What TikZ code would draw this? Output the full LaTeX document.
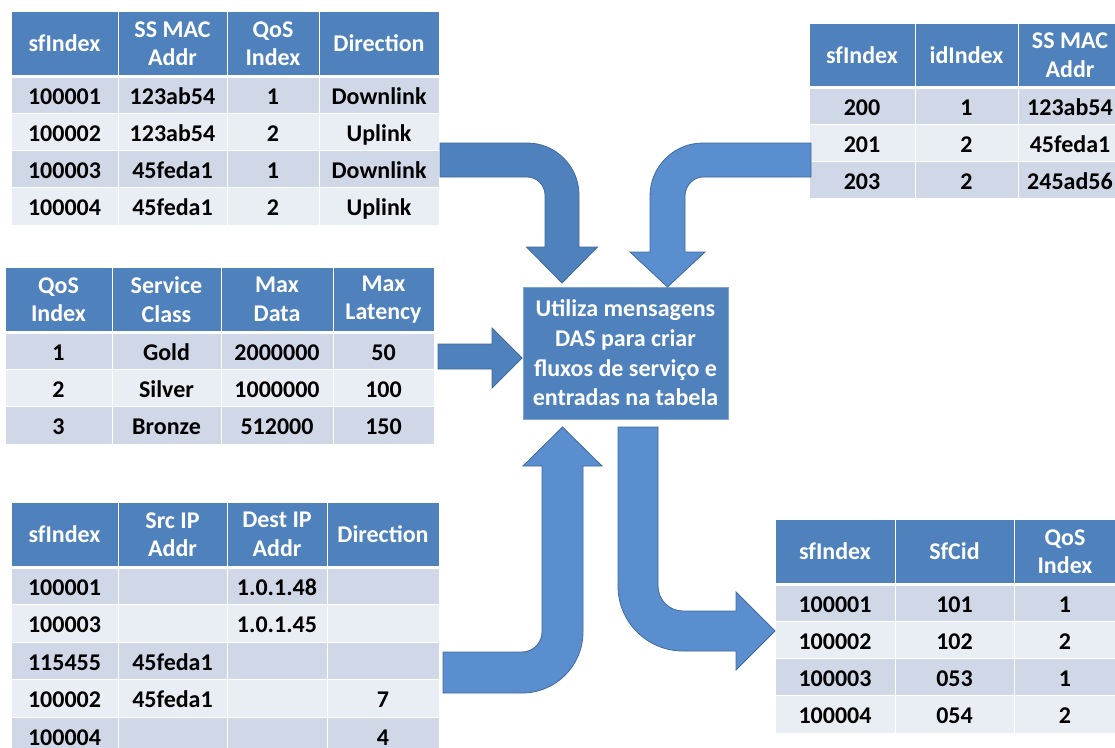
\documentclass[tikz,border=0pt]{standalone}
\usepackage{fontspec}
\setmainfont{Carlito}
\definecolor{hdr}{HTML}{4F81BD}
\definecolor{rowA}{HTML}{D0D8E8}
\definecolor{rowB}{HTML}{E9EDF4}
\definecolor{arrowdark}{HTML}{4F81BD}
\definecolor{arrowlight}{HTML}{5A8ECF}
\definecolor{arrowline}{HTML}{3F6A9E}
\definecolor{boxline}{HTML}{7FA3D3}
\newcommand\tcell[7]{%
  \node[#2, minimum width={(#5-#3)*1pt}, minimum height={(#6-#4)*1pt}] (#1) at ({(#3+#5)/2},{(#4+#6)/2}) {#7};}
\begin{document}
\begin{tikzpicture}[x=1pt,y=-1pt,
  tfont/.style={font=\fontsize{24}{28.5}\selectfont\bfseries},
  hcell/.style={tfont, fill=hdr, draw=white, line width=1pt, text=white, align=center, inner sep=0pt},
  bcell/.style={tfont, draw=white, line width=1pt, text=black, inner sep=0pt, text height=19pt, text depth=0pt},
  hline/.style={white, line width=2.5pt},
  darrow/.style={fill=arrowdark, draw=arrowline, line width=0.8pt, line join=miter},
  larrow/.style={fill=arrowlight, draw=arrowline, line width=0.8pt, line join=miter},
  dasbox/.style={fill=hdr, draw=boxline, line width=0.8pt, text=white, align=center,
    font=\fontsize{24}{29.7}\selectfont\bfseries, minimum width=205pt, minimum height=132pt, inner sep=0pt}]
\useasboundingbox (0,0) rectangle (1115,747);
\clip (0,0) rectangle (1115,747);
\fill[white] (0,0) rectangle (1115,747);

% ---------- Table 1 (top left)
\tcell{ta-h1}{hcell}{11}{11}{118}{76}{sfIndex}
\tcell{ta-h2}{hcell}{118}{11}{227}{76}{SS MAC\\Addr}
\tcell{ta-h3}{hcell}{227}{11}{319}{76}{QoS\\Index}
\tcell{ta-h4}{hcell}{319}{11}{439}{76}{Direction}
\foreach \ca/\va/\vb/\xa/\xb/\xc/\xd [count=\ri] in
  {rowA/76/113.25/100001/123ab54/1/Downlink,
   rowB/113.25/150.5/100002/123ab54/2/Uplink,
   rowA/150.5/187.75/100003/45feda1/1/Downlink,
   rowB/187.75/225/100004/45feda1/2/Uplink}{
  \tcell{ta-\ri-1}{bcell,fill=\ca}{11}{\va}{118}{\vb}{\xa}
  \tcell{ta-\ri-2}{bcell,fill=\ca}{118}{\va}{227}{\vb}{\xb}
  \tcell{ta-\ri-3}{bcell,fill=\ca}{227}{\va}{319}{\vb}{\xc}
  \tcell{ta-\ri-4}{bcell,fill=\ca}{319}{\va}{439}{\vb}{\xd}
}
\draw[hline] (ta-h1.south west) -- (ta-h4.south east);

% ---------- Table 2 (top right)
\tcell{tb-h1}{hcell}{809}{23}{915}{87}{sfIndex}
\tcell{tb-h2}{hcell}{915}{23}{1018}{87}{idIndex}
\tcell{tb-h3}{hcell}{1018}{23}{1122}{87}{SS MAC\\Addr}
\foreach \ca/\va/\vb/\xa/\xb/\xc [count=\ri] in
  {rowA/87/124/200/1/123ab54,
   rowB/124/161/201/2/45feda1,
   rowA/161/198/203/2/245ad56}{
  \tcell{tb-\ri-1}{bcell,fill=\ca}{809}{\va}{915}{\vb}{\xa}
  \tcell{tb-\ri-2}{bcell,fill=\ca}{915}{\va}{1018}{\vb}{\xb}
  \tcell{tb-\ri-3}{bcell,fill=\ca}{1018}{\va}{1122}{\vb}{\xc}
}
\draw[hline] (tb-h1.south west) -- (tb-h3.south east);

% ---------- Table 3 (QoS)
\tcell{tc-h1}{hcell}{5}{267}{112}{332}{QoS\\Index}
\tcell{tc-h2}{hcell}{112}{267}{221}{332}{Service\\Class}
\tcell{tc-h3}{hcell}{221}{267}{333}{332}{Max\\Data}
\tcell{tc-h4}{hcell}{333}{267}{434}{332}{Max\\Latency}
\foreach \ca/\va/\vb/\xa/\xb/\xc/\xd [count=\ri] in
  {rowA/332/369.3/1/Gold/2000000/50,
   rowB/369.3/406.6/2/Silver/1000000/100,
   rowA/406.6/444/3/Bronze/512000/150}{
  \tcell{tc-\ri-1}{bcell,fill=\ca}{5}{\va}{112}{\vb}{\xa}
  \tcell{tc-\ri-2}{bcell,fill=\ca}{112}{\va}{221}{\vb}{\xb}
  \tcell{tc-\ri-3}{bcell,fill=\ca}{221}{\va}{333}{\vb}{\xc}
  \tcell{tc-\ri-4}{bcell,fill=\ca}{333}{\va}{434}{\vb}{\xd}
}
\draw[hline] (tc-h1.south west) -- (tc-h4.south east);

% ---------- Table 4 (bottom left)
\tcell{td-h1}{hcell}{11}{502}{118}{567}{sfIndex}
\tcell{td-h2}{hcell}{118}{502}{227}{567}{Src IP\\Addr}
\tcell{td-h3}{hcell}{227}{502}{327}{567}{Dest IP\\Addr}
\tcell{td-h4}{hcell}{327}{502}{439}{567}{Direction}
\foreach \ca/\va/\vb/\xa/\xb/\xc/\xd [count=\ri] in
  {rowA/567/604.5/100001//1.0.1.48/,
   rowB/604.5/642/100003//1.0.1.45/,
   rowA/642/679.5/115455/45feda1//,
   rowB/679.5/717/100002/45feda1//7,
   rowA/717/754.5/100004///4}{
  \tcell{td-\ri-1}{bcell,fill=\ca}{11}{\va}{118}{\vb}{\xa}
  \tcell{td-\ri-2}{bcell,fill=\ca}{118}{\va}{227}{\vb}{\xb}
  \tcell{td-\ri-3}{bcell,fill=\ca}{227}{\va}{327}{\vb}{\xc}
  \tcell{td-\ri-4}{bcell,fill=\ca}{327}{\va}{439}{\vb}{\xd}
}
\draw[hline] (td-h1.south west) -- (td-h4.south east);

% ---------- Table 5 (bottom right)
\tcell{te-h1}{hcell}{775}{519}{895}{584}{sfIndex}
\tcell{te-h2}{hcell}{895}{519}{1014}{584}{SfCid}
\tcell{te-h3}{hcell}{1014}{519}{1116}{584}{QoS\\Index}
\foreach \ca/\va/\vb/\xa/\xb/\xc [count=\ri] in
  {rowA/584/621.25/100001/101/1,
   rowB/621.25/658.5/100002/102/2,
   rowA/658.5/695.75/100003/053/1,
   rowB/695.75/733/100004/054/2}{
  \tcell{te-\ri-1}{bcell,fill=\ca}{775}{\va}{895}{\vb}{\xa}
  \tcell{te-\ri-2}{bcell,fill=\ca}{895}{\va}{1014}{\vb}{\xb}
  \tcell{te-\ri-3}{bcell,fill=\ca}{1014}{\va}{1116}{\vb}{\xc}
}
\draw[hline] (te-h1.south west) -- (te-h3.south east);

% ---------- Central box
\node[dasbox] (das) at (625.5,353) {Utiliza mensagens\\DAS para criar\\fluxos de serviço e\\entradas na tabela};

% ---------- Block arrows
% A: from table 1, right then down
\draw[darrow] (440,143) -- (527,143) .. controls (555.7,143) and (579,166.3) .. (579,195)
  -- (579,247) -- (597.5,247) -- (562,283) -- (526.5,247) -- (545,247) -- (545,195)
  .. controls (545,185.1) and (536.9,177) .. (527,177) -- (440,177) -- cycle;
% B: from table 2, left then down
\draw[larrow] (811,143) -- (703,143) .. controls (673.7,143) and (650,166.7) .. (650,196)
  -- (650,252) -- (630,252) -- (667.5,287) -- (705,252) -- (685,252) -- (685,196)
  .. controls (685,186.1) and (693.1,177) .. (703,177) -- (811,177) -- cycle;
% C: straight arrow from table 3
\draw[darrow] (438,344) -- (492,344) -- (492,328) -- (522,358) -- (492,388) -- (492,369)
  -- (438,369) -- cycle;
% D: from table 4, right then up
\draw[larrow] (443,652) -- (522,652) .. controls (533,652) and (542,643) .. (542,632)
  -- (542,466) -- (523,466) -- (562.5,427) -- (602,466) -- (583,466) -- (583,632)
  .. controls (583,665.7) and (555.7,693) .. (522,693) -- (443,693) -- cycle;
% E: from box, down then right to table 5
\draw[larrow] (618,427) -- (658,427) -- (658,586) .. controls (658,599.8) and (669.2,611) .. (683,611)
  -- (736,611) -- (736,592) -- (775,631) -- (736,670) -- (736,651) -- (683,651)
  .. controls (647.1,651) and (618,621.9) .. (618,586) -- cycle;
\end{tikzpicture}
\end{document}
